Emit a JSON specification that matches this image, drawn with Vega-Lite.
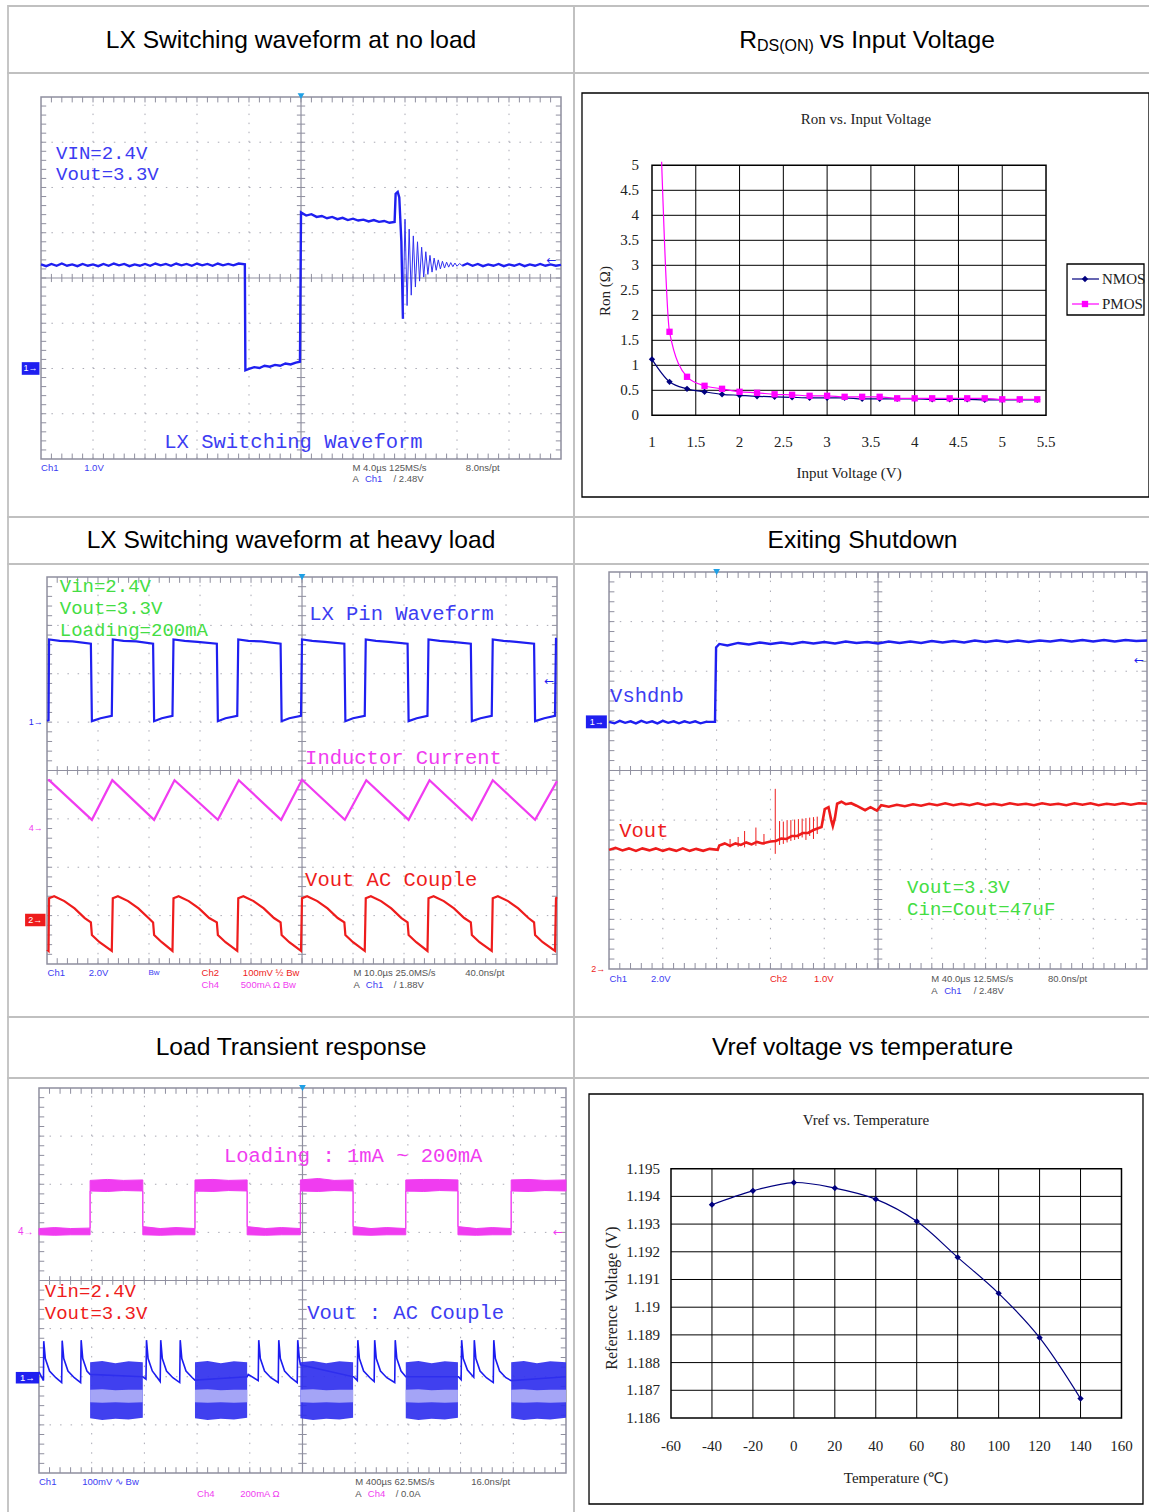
{
"$schema":"https://vega.github.io/schema/vega-lite/v6.json",
"background":"white",
"padding":{"left":7,"top":5,"right":0,"bottom":0},
"data":{"values":[{}]},
"config":{"view":{"stroke":"#c0c0c0","strokeWidth":1.8},"axis":{"disable":true},"legend":{"disable":true}},
"datasets":{
"gx":[{"v":1},{"v":2},{"v":3},{"v":4},{"v":6},{"v":7},{"v":8},{"v":9}],
"gy":[{"v":1},{"v":2},{"v":3},{"v":5},{"v":6},{"v":7}],
"tx":[{"v":0.2},{"v":0.4},{"v":0.6},{"v":0.8},{"v":1},{"v":1.2},{"v":1.4},{"v":1.6},{"v":1.8},{"v":2},{"v":2.2},{"v":2.4},{"v":2.6},{"v":2.8},{"v":3},{"v":3.2},{"v":3.4},{"v":3.6},{"v":3.8},{"v":4},{"v":4.2},{"v":4.4},{"v":4.6},{"v":4.8},{"v":5},{"v":5.2},{"v":5.4},{"v":5.6},{"v":5.8},{"v":6},{"v":6.2},{"v":6.4},{"v":6.6},{"v":6.8},{"v":7},{"v":7.2},{"v":7.4},{"v":7.6},{"v":7.8},{"v":8},{"v":8.2},{"v":8.4},{"v":8.6},{"v":8.8},{"v":9},{"v":9.2},{"v":9.4},{"v":9.6},{"v":9.8}],
"ty":[{"v":0.2},{"v":0.4},{"v":0.6},{"v":0.8},{"v":1},{"v":1.2},{"v":1.4},{"v":1.6},{"v":1.8},{"v":2},{"v":2.2},{"v":2.4},{"v":2.6},{"v":2.8},{"v":3},{"v":3.2},{"v":3.4},{"v":3.6},{"v":3.8},{"v":4},{"v":4.2},{"v":4.4},{"v":4.6},{"v":4.8},{"v":5},{"v":5.2},{"v":5.4},{"v":5.6},{"v":5.8},{"v":6},{"v":6.2},{"v":6.4},{"v":6.6},{"v":6.8},{"v":7},{"v":7.2},{"v":7.4},{"v":7.6},{"v":7.8}],
"s1a":[{"x":0,"y":4.3},{"x":0.1,"y":4.26},{"x":0.2,"y":4.31},{"x":0.3,"y":4.27},{"x":0.4,"y":4.32},{"x":0.5,"y":4.27},{"x":0.6,"y":4.3},{"x":0.7,"y":4.26},{"x":0.8,"y":4.31},{"x":0.9,"y":4.27},{"x":1,"y":4.3},{"x":1.1,"y":4.26},{"x":1.2,"y":4.31},{"x":1.3,"y":4.27},{"x":1.4,"y":4.32},{"x":1.5,"y":4.28},{"x":1.6,"y":4.31},{"x":1.7,"y":4.26},{"x":1.8,"y":4.3},{"x":1.9,"y":4.27},{"x":2,"y":4.31},{"x":2.1,"y":4.27},{"x":2.2,"y":4.32},{"x":2.3,"y":4.28},{"x":2.4,"y":4.31},{"x":2.5,"y":4.27},{"x":2.6,"y":4.32},{"x":2.7,"y":4.28},{"x":2.8,"y":4.31},{"x":2.9,"y":4.27},{"x":3,"y":4.32},{"x":3.1,"y":4.28},{"x":3.2,"y":4.31},{"x":3.3,"y":4.27},{"x":3.4,"y":4.32},{"x":3.5,"y":4.28},{"x":3.6,"y":4.31},{"x":3.7,"y":4.28},{"x":3.8,"y":4.32},{"x":3.92,"y":4.3},{"x":3.93,"y":1.96},{"x":4.0,"y":1.99},{"x":4.1,"y":2.03},{"x":4.2,"y":2.01},{"x":4.3,"y":2.06},{"x":4.4,"y":2.04},{"x":4.5,"y":2.08},{"x":4.6,"y":2.06},{"x":4.7,"y":2.11},{"x":4.8,"y":2.09},{"x":4.9,"y":2.13},{"x":4.98,"y":2.15},{"x":5.0,"y":5.45},{"x":5.1,"y":5.38},{"x":5.2,"y":5.41},{"x":5.3,"y":5.35},{"x":5.4,"y":5.37},{"x":5.5,"y":5.32},{"x":5.6,"y":5.35},{"x":5.7,"y":5.3},{"x":5.8,"y":5.33},{"x":5.9,"y":5.28},{"x":6.0,"y":5.31},{"x":6.1,"y":5.27},{"x":6.2,"y":5.29},{"x":6.3,"y":5.25},{"x":6.4,"y":5.28},{"x":6.5,"y":5.24},{"x":6.6,"y":5.26},{"x":6.7,"y":5.22},{"x":6.8,"y":5.24},{"x":6.82,"y":5.86},{"x":6.86,"y":5.9},{"x":6.89,"y":5.78},{"x":6.93,"y":4.8},{"x":6.96,"y":3.1}],
"s1r":[{"x":6.96,"y":3.1},{"x":7.0,"y":5.3},{"x":7.04,"y":3.39},{"x":7.08,"y":5.08},{"x":7.12,"y":3.62},{"x":7.16,"y":4.93},{"x":7.2,"y":3.8},{"x":7.24,"y":4.8},{"x":7.28,"y":3.93},{"x":7.32,"y":4.68},{"x":7.36,"y":4.02},{"x":7.4,"y":4.58},{"x":7.44,"y":4.08},{"x":7.48,"y":4.5},{"x":7.52,"y":4.13},{"x":7.56,"y":4.44},{"x":7.6,"y":4.17},{"x":7.64,"y":4.4},{"x":7.68,"y":4.2},{"x":7.72,"y":4.37},{"x":7.76,"y":4.22},{"x":7.8,"y":4.35},{"x":7.84,"y":4.24},{"x":7.88,"y":4.34},{"x":7.92,"y":4.25},{"x":7.96,"y":4.33},{"x":8.0,"y":4.26},{"x":8.05,"y":4.32},{"x":8.1,"y":4.27}],
"s1c":[{"x":8.1,"y":4.27},{"x":8.2,"y":4.32},{"x":8.3,"y":4.27},{"x":8.4,"y":4.31},{"x":8.5,"y":4.26},{"x":8.6,"y":4.3},{"x":8.7,"y":4.27},{"x":8.8,"y":4.31},{"x":8.9,"y":4.26},{"x":9.0,"y":4.3},{"x":9.1,"y":4.27},{"x":9.2,"y":4.31},{"x":9.3,"y":4.26},{"x":9.4,"y":4.3},{"x":9.5,"y":4.27},{"x":9.6,"y":4.31},{"x":9.7,"y":4.27},{"x":9.8,"y":4.3},{"x":9.9,"y":4.27},{"x":10,"y":4.29}],
"s2b":[{"x":0,"y":5.03},{"x":0.03,"y":5.04},{"x":0.04,"y":6.71},{"x":0.25,"y":6.68},{"x":0.5,"y":6.67},{"x":0.86,"y":6.62},{"x":0.88,"y":5.02},{"x":1.05,"y":5.08},{"x":1.27,"y":5.13},{"x":1.29,"y":6.71},{"x":1.5,"y":6.68},{"x":1.75,"y":6.67},{"x":2.08,"y":6.62},{"x":2.1,"y":5.02},{"x":2.25,"y":5.08},{"x":2.46,"y":5.13},{"x":2.48,"y":6.71},{"x":2.7,"y":6.68},{"x":2.95,"y":6.66},{"x":3.33,"y":6.62},{"x":3.35,"y":5.02},{"x":3.5,"y":5.08},{"x":3.73,"y":5.13},{"x":3.75,"y":6.71},{"x":3.95,"y":6.68},{"x":4.2,"y":6.67},{"x":4.58,"y":6.62},{"x":4.6,"y":5.02},{"x":4.75,"y":5.08},{"x":4.98,"y":5.13},{"x":5.0,"y":6.71},{"x":5.2,"y":6.68},{"x":5.45,"y":6.66},{"x":5.83,"y":6.62},{"x":5.85,"y":5.02},{"x":6.0,"y":5.08},{"x":6.23,"y":5.13},{"x":6.25,"y":6.71},{"x":6.45,"y":6.68},{"x":6.7,"y":6.66},{"x":7.07,"y":6.62},{"x":7.09,"y":5.02},{"x":7.25,"y":5.08},{"x":7.46,"y":5.13},{"x":7.48,"y":6.71},{"x":7.7,"y":6.68},{"x":7.95,"y":6.66},{"x":8.31,"y":6.62},{"x":8.33,"y":5.02},{"x":8.5,"y":5.08},{"x":8.72,"y":5.13},{"x":8.74,"y":6.71},{"x":8.95,"y":6.68},{"x":9.2,"y":6.66},{"x":9.55,"y":6.62},{"x":9.57,"y":5.02},{"x":9.75,"y":5.08},{"x":9.96,"y":5.13},{"x":9.98,"y":6.72},{"x":10,"y":6.72}],
"s2m":[{"x":0.02,"y":3.79},{"x":0.04,"y":3.8},{"x":0.88,"y":2.98},{"x":1.28,"y":3.8},{"x":2.1,"y":2.98},{"x":2.5,"y":3.8},{"x":3.35,"y":2.98},{"x":3.76,"y":3.8},{"x":4.59,"y":2.98},{"x":5.0,"y":3.81},{"x":5.84,"y":2.98},{"x":6.26,"y":3.8},{"x":7.09,"y":2.98},{"x":7.5,"y":3.8},{"x":8.33,"y":2.98},{"x":8.74,"y":3.8},{"x":9.57,"y":2.98},{"x":10,"y":3.78}],
"s2r":[{"x":0,"y":0.3},{"x":0.03,"y":0.27},{"x":0.04,"y":1.36},{"x":0.14,"y":1.4},{"x":0.34,"y":1.3},{"x":0.54,"y":1.15},{"x":0.74,"y":0.95},{"x":0.86,"y":0.86},{"x":0.88,"y":0.6},{"x":1.03,"y":0.45},{"x":1.27,"y":0.27},{"x":1.29,"y":1.36},{"x":1.39,"y":1.4},{"x":1.59,"y":1.3},{"x":1.79,"y":1.15},{"x":1.99,"y":0.95},{"x":2.08,"y":0.86},{"x":2.1,"y":0.6},{"x":2.25,"y":0.45},{"x":2.46,"y":0.27},{"x":2.48,"y":1.36},{"x":2.58,"y":1.4},{"x":2.78,"y":1.3},{"x":2.98,"y":1.15},{"x":3.18,"y":0.95},{"x":3.33,"y":0.86},{"x":3.35,"y":0.6},{"x":3.5,"y":0.45},{"x":3.73,"y":0.27},{"x":3.75,"y":1.36},{"x":3.85,"y":1.4},{"x":4.05,"y":1.3},{"x":4.25,"y":1.15},{"x":4.45,"y":0.95},{"x":4.58,"y":0.86},{"x":4.6,"y":0.6},{"x":4.75,"y":0.45},{"x":4.98,"y":0.27},{"x":5.0,"y":1.36},{"x":5.1,"y":1.4},{"x":5.3,"y":1.3},{"x":5.5,"y":1.15},{"x":5.7,"y":0.95},{"x":5.83,"y":0.86},{"x":5.85,"y":0.6},{"x":6.0,"y":0.45},{"x":6.23,"y":0.27},{"x":6.25,"y":1.36},{"x":6.35,"y":1.4},{"x":6.55,"y":1.3},{"x":6.75,"y":1.15},{"x":6.95,"y":0.95},{"x":7.07,"y":0.86},{"x":7.09,"y":0.6},{"x":7.24,"y":0.45},{"x":7.46,"y":0.27},{"x":7.48,"y":1.36},{"x":7.58,"y":1.4},{"x":7.78,"y":1.3},{"x":7.98,"y":1.15},{"x":8.18,"y":0.95},{"x":8.31,"y":0.86},{"x":8.33,"y":0.6},{"x":8.48,"y":0.45},{"x":8.72,"y":0.27},{"x":8.74,"y":1.36},{"x":8.84,"y":1.4},{"x":9.04,"y":1.3},{"x":9.24,"y":1.15},{"x":9.44,"y":0.95},{"x":9.55,"y":0.86},{"x":9.57,"y":0.6},{"x":9.72,"y":0.45},{"x":9.96,"y":0.27},{"x":9.98,"y":1.36},{"x":10,"y":1.38}],
"s3b":[{"x":0,"y":4.98},{"x":0.1,"y":4.95},{"x":0.2,"y":5.0},{"x":0.3,"y":4.96},{"x":0.4,"y":4.99},{"x":0.5,"y":4.95},{"x":0.6,"y":5.0},{"x":0.7,"y":4.96},{"x":0.8,"y":4.99},{"x":0.9,"y":4.95},{"x":1.0,"y":5.0},{"x":1.1,"y":4.96},{"x":1.2,"y":4.99},{"x":1.3,"y":4.95},{"x":1.4,"y":4.99},{"x":1.5,"y":4.96},{"x":1.6,"y":4.99},{"x":1.7,"y":4.95},{"x":1.8,"y":4.98},{"x":1.97,"y":4.98},{"x":1.99,"y":6.48},{"x":2.05,"y":6.55},{"x":2.2,"y":6.52},{"x":2.4,"y":6.57},{"x":2.6,"y":6.54},{"x":2.8,"y":6.58},{"x":3.0,"y":6.55},{"x":3.2,"y":6.58},{"x":3.4,"y":6.55},{"x":3.6,"y":6.59},{"x":3.8,"y":6.56},{"x":4.0,"y":6.59},{"x":4.2,"y":6.56},{"x":4.4,"y":6.6},{"x":4.6,"y":6.57},{"x":4.8,"y":6.59},{"x":5.0,"y":6.56},{"x":5.2,"y":6.6},{"x":5.4,"y":6.57},{"x":5.6,"y":6.6},{"x":5.8,"y":6.57},{"x":6.0,"y":6.61},{"x":6.2,"y":6.58},{"x":6.4,"y":6.61},{"x":6.6,"y":6.58},{"x":6.8,"y":6.62},{"x":7.0,"y":6.59},{"x":7.2,"y":6.62},{"x":7.4,"y":6.59},{"x":7.6,"y":6.62},{"x":7.8,"y":6.59},{"x":8.0,"y":6.62},{"x":8.2,"y":6.6},{"x":8.4,"y":6.63},{"x":8.6,"y":6.6},{"x":8.8,"y":6.63},{"x":9.0,"y":6.6},{"x":9.2,"y":6.63},{"x":9.4,"y":6.6},{"x":9.6,"y":6.63},{"x":9.8,"y":6.61},{"x":10,"y":6.62}],
"s3r":[{"x":0,"y":2.4},{"x":0.12,"y":2.44},{"x":0.25,"y":2.39},{"x":0.37,"y":2.43},{"x":0.5,"y":2.38},{"x":0.62,"y":2.43},{"x":0.75,"y":2.39},{"x":0.87,"y":2.43},{"x":1.0,"y":2.38},{"x":1.12,"y":2.42},{"x":1.25,"y":2.38},{"x":1.37,"y":2.43},{"x":1.5,"y":2.38},{"x":1.62,"y":2.42},{"x":1.75,"y":2.38},{"x":1.87,"y":2.42},{"x":2.02,"y":2.4},{"x":2.05,"y":2.49},{"x":2.15,"y":2.53},{"x":2.25,"y":2.48},{"x":2.35,"y":2.53},{"x":2.45,"y":2.5},{"x":2.55,"y":2.55},{"x":2.65,"y":2.51},{"x":2.75,"y":2.56},{"x":2.85,"y":2.53},{"x":3.0,"y":2.57},{"x":3.1,"y":2.58},{"x":3.2,"y":2.63},{"x":3.3,"y":2.62},{"x":3.4,"y":2.68},{"x":3.5,"y":2.68},{"x":3.6,"y":2.74},{"x":3.7,"y":2.74},{"x":3.8,"y":2.8},{"x":3.95,"y":2.86},{"x":4.01,"y":3.22},{"x":4.08,"y":3.26},{"x":4.13,"y":3.0},{"x":4.16,"y":2.88},{"x":4.2,"y":3.05},{"x":4.24,"y":3.33},{"x":4.32,"y":3.37},{"x":4.4,"y":3.32},{"x":4.5,"y":3.34},{"x":4.6,"y":3.29},{"x":4.76,"y":3.2},{"x":4.86,"y":3.26},{"x":4.98,"y":3.19},{"x":5.06,"y":3.3},{"x":5.2,"y":3.27},{"x":5.35,"y":3.31},{"x":5.5,"y":3.28},{"x":5.65,"y":3.32},{"x":5.8,"y":3.29},{"x":5.95,"y":3.33},{"x":6.1,"y":3.3},{"x":6.25,"y":3.34},{"x":6.4,"y":3.3},{"x":6.55,"y":3.33},{"x":6.7,"y":3.3},{"x":6.85,"y":3.34},{"x":7.0,"y":3.3},{"x":7.15,"y":3.33},{"x":7.3,"y":3.3},{"x":7.45,"y":3.34},{"x":7.6,"y":3.31},{"x":7.75,"y":3.33},{"x":7.9,"y":3.3},{"x":8.05,"y":3.34},{"x":8.2,"y":3.31},{"x":8.35,"y":3.33},{"x":8.5,"y":3.3},{"x":8.65,"y":3.34},{"x":8.8,"y":3.31},{"x":8.95,"y":3.34},{"x":9.1,"y":3.3},{"x":9.25,"y":3.33},{"x":9.4,"y":3.31},{"x":9.55,"y":3.34},{"x":9.7,"y":3.31},{"x":9.85,"y":3.34},{"x":10,"y":3.33}],
"s3sp":[{"x":2.25,"lo":2.45,"hi":2.62},{"x":2.4,"lo":2.46,"hi":2.66},{"x":2.52,"lo":2.45,"hi":2.78},{"x":2.73,"lo":2.48,"hi":2.85},{"x":2.88,"lo":2.5,"hi":2.72},{"x":3.09,"lo":2.32,"hi":3.63},{"x":3.17,"lo":2.5,"hi":2.98},{"x":3.24,"lo":2.52,"hi":2.97},{"x":3.31,"lo":2.55,"hi":3.0},{"x":3.38,"lo":2.58,"hi":3.0},{"x":3.45,"lo":2.6,"hi":3.01},{"x":3.52,"lo":2.62,"hi":3.02},{"x":3.59,"lo":2.65,"hi":3.03},{"x":3.66,"lo":2.6,"hi":3.04},{"x":3.73,"lo":2.68,"hi":3.05},{"x":3.8,"lo":2.62,"hi":3.06},{"x":3.87,"lo":2.72,"hi":3.07}],
"s4m":[{"x":0,"lo":4.95,"hi":5.08},{"x":0.3,"lo":4.94,"hi":5.1},{"x":0.6,"lo":4.95,"hi":5.08},{"x":0.97,"lo":4.95,"hi":5.09},{"x":0.97,"lo":5.86,"hi":6.08},{"x":1.3,"lo":5.85,"hi":6.1},{"x":1.6,"lo":5.87,"hi":6.08},{"x":1.97,"lo":5.86,"hi":6.09},{"x":1.97,"lo":4.95,"hi":5.12},{"x":2.3,"lo":4.94,"hi":5.08},{"x":2.6,"lo":4.95,"hi":5.1},{"x":2.96,"lo":4.95,"hi":5.08},{"x":2.96,"lo":5.86,"hi":6.09},{"x":3.3,"lo":5.85,"hi":6.1},{"x":3.6,"lo":5.87,"hi":6.08},{"x":3.95,"lo":5.86,"hi":6.09},{"x":3.95,"lo":4.95,"hi":5.12},{"x":4.3,"lo":4.94,"hi":5.08},{"x":4.6,"lo":4.95,"hi":5.1},{"x":4.96,"lo":4.95,"hi":5.08},{"x":4.96,"lo":5.86,"hi":6.09},{"x":5.3,"lo":5.85,"hi":6.12},{"x":5.6,"lo":5.87,"hi":6.08},{"x":5.96,"lo":5.86,"hi":6.09},{"x":5.96,"lo":4.95,"hi":5.12},{"x":6.3,"lo":4.94,"hi":5.08},{"x":6.6,"lo":4.95,"hi":5.1},{"x":6.96,"lo":4.95,"hi":5.08},{"x":6.96,"lo":5.86,"hi":6.09},{"x":7.3,"lo":5.85,"hi":6.1},{"x":7.6,"lo":5.87,"hi":6.1},{"x":7.95,"lo":5.86,"hi":6.09},{"x":7.95,"lo":4.95,"hi":5.12},{"x":8.3,"lo":4.94,"hi":5.08},{"x":8.6,"lo":4.95,"hi":5.1},{"x":8.96,"lo":4.95,"hi":5.08},{"x":8.96,"lo":5.86,"hi":6.09},{"x":9.3,"lo":5.85,"hi":6.1},{"x":9.6,"lo":5.87,"hi":6.08},{"x":10,"lo":5.86,"hi":6.09}],
"s4b":[{"x":0,"y":2.1},{"x":0.085,"y":1.92},{"x":0.09,"y":2.74},{"x":0.12,"y":2.38},{"x":0.2,"y":2.12},{"x":0.32,"y":1.98},{"x":0.43,"y":1.88},{"x":0.44,"y":2.75},{"x":0.47,"y":2.38},{"x":0.55,"y":2.12},{"x":0.67,"y":1.98},{"x":0.79,"y":1.88},{"x":0.8,"y":2.76},{"x":0.83,"y":2.38},{"x":0.91,"y":2.12},{"x":0.97,"y":2.05},{"x":1.97,"y":2.0},{"x":2.03,"y":1.95},{"x":2.04,"y":2.76},{"x":2.07,"y":2.38},{"x":2.15,"y":2.12},{"x":2.3,"y":1.9},{"x":2.31,"y":2.76},{"x":2.34,"y":2.38},{"x":2.42,"y":2.12},{"x":2.54,"y":1.98},{"x":2.67,"y":1.88},{"x":2.68,"y":2.76},{"x":2.71,"y":2.38},{"x":2.79,"y":2.12},{"x":2.91,"y":1.98},{"x":2.96,"y":1.93},{"x":3.95,"y":2.0},{"x":3.97,"y":2.05},{"x":4.16,"y":1.92},{"x":4.17,"y":2.76},{"x":4.2,"y":2.38},{"x":4.28,"y":2.12},{"x":4.4,"y":1.98},{"x":4.54,"y":1.88},{"x":4.55,"y":2.76},{"x":4.58,"y":2.38},{"x":4.66,"y":2.12},{"x":4.78,"y":1.98},{"x":4.9,"y":1.88},{"x":4.91,"y":2.76},{"x":4.94,"y":2.38},{"x":4.96,"y":2.25},{"x":5.96,"y":2.0},{"x":5.97,"y":2.0},{"x":6.04,"y":1.92},{"x":6.05,"y":2.76},{"x":6.08,"y":2.38},{"x":6.16,"y":2.12},{"x":6.28,"y":1.98},{"x":6.36,"y":1.9},{"x":6.37,"y":2.76},{"x":6.4,"y":2.38},{"x":6.48,"y":2.12},{"x":6.6,"y":1.98},{"x":6.75,"y":1.88},{"x":6.76,"y":2.76},{"x":6.79,"y":2.38},{"x":6.87,"y":2.12},{"x":6.96,"y":2.0},{"x":7.95,"y":2.0},{"x":7.96,"y":2.0},{"x":8.01,"y":1.94},{"x":8.02,"y":2.76},{"x":8.05,"y":2.38},{"x":8.13,"y":2.14},{"x":8.25,"y":1.99},{"x":8.26,"y":2.76},{"x":8.29,"y":2.38},{"x":8.37,"y":2.12},{"x":8.49,"y":1.98},{"x":8.62,"y":1.88},{"x":8.63,"y":2.76},{"x":8.66,"y":2.38},{"x":8.74,"y":2.12},{"x":8.86,"y":1.98},{"x":8.96,"y":1.92},{"x":10,"y":2.0}],
"s4burst":[{"b":1,"x":0.97,"lo":1.14,"hi":2.3,"mlo":1.47,"mhi":1.73},{"b":1,"x":1.2,"lo":1.1,"hi":2.33,"mlo":1.46,"mhi":1.74},{"b":1,"x":1.45,"lo":1.13,"hi":2.28,"mlo":1.47,"mhi":1.72},{"b":1,"x":1.7,"lo":1.11,"hi":2.32,"mlo":1.46,"mhi":1.73},{"b":1,"x":1.97,"lo":1.15,"hi":2.3,"mlo":1.47,"mhi":1.73},
{"b":2,"x":2.96,"lo":1.14,"hi":2.3,"mlo":1.47,"mhi":1.73},{"b":2,"x":3.2,"lo":1.1,"hi":2.33,"mlo":1.46,"mhi":1.74},{"b":2,"x":3.45,"lo":1.13,"hi":2.28,"mlo":1.47,"mhi":1.72},{"b":2,"x":3.7,"lo":1.11,"hi":2.32,"mlo":1.46,"mhi":1.73},{"b":2,"x":3.95,"lo":1.15,"hi":2.3,"mlo":1.47,"mhi":1.73},
{"b":3,"x":4.96,"lo":1.14,"hi":2.3,"mlo":1.47,"mhi":1.73},{"b":3,"x":5.2,"lo":1.1,"hi":2.33,"mlo":1.46,"mhi":1.74},{"b":3,"x":5.45,"lo":1.13,"hi":2.28,"mlo":1.47,"mhi":1.72},{"b":3,"x":5.7,"lo":1.11,"hi":2.32,"mlo":1.46,"mhi":1.73},{"b":3,"x":5.96,"lo":1.15,"hi":2.3,"mlo":1.47,"mhi":1.73},
{"b":4,"x":6.96,"lo":1.14,"hi":2.3,"mlo":1.47,"mhi":1.73},{"b":4,"x":7.2,"lo":1.1,"hi":2.33,"mlo":1.46,"mhi":1.74},{"b":4,"x":7.45,"lo":1.13,"hi":2.28,"mlo":1.47,"mhi":1.72},{"b":4,"x":7.7,"lo":1.11,"hi":2.32,"mlo":1.46,"mhi":1.73},{"b":4,"x":7.95,"lo":1.15,"hi":2.3,"mlo":1.47,"mhi":1.73},
{"b":5,"x":8.96,"lo":1.14,"hi":2.3,"mlo":1.47,"mhi":1.73},{"b":5,"x":9.2,"lo":1.1,"hi":2.33,"mlo":1.46,"mhi":1.74},{"b":5,"x":9.45,"lo":1.13,"hi":2.28,"mlo":1.47,"mhi":1.72},{"b":5,"x":9.7,"lo":1.11,"hi":2.32,"mlo":1.46,"mhi":1.73},{"b":5,"x":10,"lo":1.15,"hi":2.3,"mlo":1.47,"mhi":1.73}],
"nmos":[{"v":1.0,"r":1.12},{"v":1.2,"r":0.67},{"v":1.4,"r":0.53},{"v":1.6,"r":0.47},{"v":1.8,"r":0.42},{"v":2.0,"r":0.4},{"v":2.2,"r":0.38},{"v":2.4,"r":0.37},{"v":2.6,"r":0.36},{"v":2.8,"r":0.35},{"v":3.0,"r":0.35},{"v":3.2,"r":0.35},{"v":3.4,"r":0.33},{"v":3.6,"r":0.33},{"v":3.8,"r":0.33},{"v":4.0,"r":0.33},{"v":4.2,"r":0.32},{"v":4.4,"r":0.32},{"v":4.6,"r":0.32},{"v":4.8,"r":0.31},{"v":5.0,"r":0.31},{"v":5.2,"r":0.31},{"v":5.4,"r":0.31}],
"pmos":[{"v":1.11,"r":5.07,"edge":true},{"v":1.2,"r":1.67},{"v":1.4,"r":0.77},{"v":1.6,"r":0.59},{"v":1.8,"r":0.53},{"v":2.0,"r":0.47},{"v":2.2,"r":0.45},{"v":2.4,"r":0.42},{"v":2.6,"r":0.41},{"v":2.8,"r":0.39},{"v":3.0,"r":0.39},{"v":3.2,"r":0.37},{"v":3.4,"r":0.37},{"v":3.6,"r":0.37},{"v":3.8,"r":0.34},{"v":4.0,"r":0.34},{"v":4.2,"r":0.34},{"v":4.4,"r":0.34},{"v":4.6,"r":0.34},{"v":4.8,"r":0.34},{"v":5.0,"r":0.32},{"v":5.2,"r":0.32},{"v":5.4,"r":0.32}],
"vref":[{"t":-40,"v":1.1937},{"t":-20,"v":1.1942},{"t":0,"v":1.1945},{"t":20,"v":1.1943},{"t":40,"v":1.1939},{"t":60,"v":1.1931},{"t":80,"v":1.1918},{"t":100,"v":1.1905},{"t":120,"v":1.1889},{"t":140,"v":1.1867}]
},
"columns":2,
"spacing":0,
"bounds":"flush",
"resolve":{"scale":{"x":"independent","y":"independent"}},
"concat":[
{"width":566,"height":67,"mark":{"type":"text","text":"LX Switching waveform at no load","font":"Liberation Sans","fontSize":24.6,"color":"#000000"},"encoding":{"x":{"datum":50,"scale":{"domain":[0,100],"nice":false,"zero":false}},"y":{"datum":0.48,"scale":{"domain":[0,1],"nice":false,"zero":false}}}},
{"width":577,"height":67,"layer":[
{"mark":{"type":"text","text":"R","font":"Liberation Sans","fontSize":24.6,"color":"#000000","align":"right"},"encoding":{"x":{"datum":31.7,"scale":{"domain":[0,100],"nice":false,"zero":false}},"y":{"datum":0.48,"scale":{"domain":[0,1],"nice":false,"zero":false}}}},
{"mark":{"type":"text","text":"DS(ON)","font":"Liberation Sans","fontSize":16,"color":"#000000","align":"left"},"encoding":{"x":{"datum":31.7},"y":{"datum":0.4}}},
{"mark":{"type":"text","text":"vs Input Voltage","font":"Liberation Sans","fontSize":24.6,"color":"#000000","align":"left"},"encoding":{"x":{"datum":42.6},"y":{"datum":0.48}}}
]},
{"width":566,"height":444,"layer":[
{"data":{"name":"gx"},"mark":{"type":"rule","color":"#a9a9b4","strokeWidth":1,"strokeDash":[1.5,7.55]},"encoding":{"x":{"field":"v","type":"quantitative","scale":{"domain":[-0.635,10.25],"nice":false,"zero":false}},"y":{"datum":0,"scale":{"domain":[-1.282,8.53],"nice":false,"zero":false}},"y2":{"datum":8}}},
{"data":{"name":"gy"},"mark":{"type":"rule","color":"#a9a9b4","strokeWidth":1,"strokeDash":[1.5,8.9]},"encoding":{"y":{"field":"v","type":"quantitative"},"x":{"datum":0},"x2":{"datum":10}}},
{"mark":{"type":"rect","fillOpacity":0,"stroke":"#8f8f9f","strokeWidth":1.5},"encoding":{"x":{"datum":0},"x2":{"datum":10},"y":{"datum":0},"y2":{"datum":8}}},
{"mark":{"type":"rule","color":"#8f8f9f","strokeWidth":1.2},"encoding":{"x":{"datum":5},"y":{"datum":0},"y2":{"datum":8}}},
{"mark":{"type":"rule","color":"#8f8f9f","strokeWidth":1.2},"encoding":{"y":{"datum":4},"x":{"datum":0},"x2":{"datum":10}}},
{"data":{"name":"tx"},"mark":{"type":"rule","color":"#8f8f9f"},"encoding":{"x":{"field":"v","type":"quantitative"},"y":{"datum":7.88},"y2":{"datum":8}}},
{"data":{"name":"tx"},"mark":{"type":"rule","color":"#8f8f9f"},"encoding":{"x":{"field":"v","type":"quantitative"},"y":{"datum":0},"y2":{"datum":0.12}}},
{"data":{"name":"tx"},"mark":{"type":"rule","color":"#8f8f9f"},"encoding":{"x":{"field":"v","type":"quantitative"},"y":{"datum":3.91},"y2":{"datum":4.09}}},
{"data":{"name":"ty"},"mark":{"type":"rule","color":"#8f8f9f"},"encoding":{"y":{"field":"v","type":"quantitative"},"x":{"datum":0},"x2":{"datum":0.1}}},
{"data":{"name":"ty"},"mark":{"type":"rule","color":"#8f8f9f"},"encoding":{"y":{"field":"v","type":"quantitative"},"x":{"datum":9.9},"x2":{"datum":10}}},
{"data":{"name":"ty"},"mark":{"type":"rule","color":"#8f8f9f"},"encoding":{"y":{"field":"v","type":"quantitative"},"x":{"datum":4.92},"x2":{"datum":5.08}}},
{"data":{"name":"s1a"},"mark":{"type":"line","color":"#1f1ff0","strokeWidth":2.4},"encoding":{"x":{"field":"x","type":"quantitative"},"y":{"field":"y","type":"quantitative"},"order":{"value":null}}},
{"data":{"name":"s1r"},"mark":{"type":"line","color":"#3030f0","strokeWidth":1},"encoding":{"x":{"field":"x","type":"quantitative"},"y":{"field":"y","type":"quantitative"},"order":{"value":null}}},
{"data":{"name":"s1c"},"mark":{"type":"line","color":"#1f1ff0","strokeWidth":2.4},"encoding":{"x":{"field":"x","type":"quantitative"},"y":{"field":"y","type":"quantitative"},"order":{"value":null}}},
{"mark":{"type":"text","text":"VIN=2.4V","font":"Liberation Mono","fontSize":19,"color":"#3c3cf2","align":"left"},"encoding":{"x":{"datum":0.29},"y":{"datum":6.773}}},
{"mark":{"type":"text","text":"Vout=3.3V","font":"Liberation Mono","fontSize":19,"color":"#3c3cf2","align":"left"},"encoding":{"x":{"datum":0.29},"y":{"datum":6.287}}},
{"mark":{"type":"text","text":"LX Switching Waveform","font":"Liberation Mono","fontSize":20.5,"color":"#3c3cf2","align":"left"},"encoding":{"x":{"datum":2.37},"y":{"datum":0.38}}},
{"mark":{"type":"rect","color":"#1f1ff0"},"encoding":{"x":{"datum":-0.37},"x2":{"datum":-0.03},"y":{"datum":1.86},"y2":{"datum":2.14}}},
{"mark":{"type":"text","text":"1→","font":"Liberation Sans","fontSize":9,"color":"#ffffff"},"encoding":{"x":{"datum":-0.2},"y":{"datum":2.0}}},
{"mark":{"type":"point","shape":"triangle-down","filled":true,"color":"#1ea0e6","size":45,"opacity":1},"encoding":{"x":{"datum":5},"y":{"datum":8.02}}},
{"mark":{"type":"text","text":"←","font":"DejaVu Sans","fontSize":12,"color":"#1f1ff0"},"encoding":{"x":{"datum":9.82},"y":{"datum":4.4}}},
{"mark":{"type":"text","text":"Ch1","font":"Liberation Sans","fontSize":9.5,"color":"#3c3cf2","align":"left"},"encoding":{"x":{"datum":0},"y":{"datum":-0.2}}},
{"mark":{"type":"text","text":"1.0V","font":"Liberation Sans","fontSize":9.5,"color":"#3c3cf2","align":"left"},"encoding":{"x":{"datum":0.83},"y":{"datum":-0.2}}},
{"mark":{"type":"text","text":"M 4.0µs 125MS/s","font":"Liberation Sans","fontSize":9.5,"color":"#555555","align":"left"},"encoding":{"x":{"datum":5.99},"y":{"datum":-0.2}}},
{"mark":{"type":"text","text":"8.0ns/pt","font":"Liberation Sans","fontSize":9.5,"color":"#555555","align":"left"},"encoding":{"x":{"datum":8.17},"y":{"datum":-0.2}}},
{"mark":{"type":"text","text":"A","font":"Liberation Sans","fontSize":9.5,"color":"#555555","align":"left"},"encoding":{"x":{"datum":5.99},"y":{"datum":-0.44}}},
{"mark":{"type":"text","text":"Ch1","font":"Liberation Sans","fontSize":9.5,"color":"#3c3cf2","align":"left"},"encoding":{"x":{"datum":6.23},"y":{"datum":-0.44}}},
{"mark":{"type":"text","text":"/ 2.48V","font":"Liberation Sans","fontSize":9.5,"color":"#555555","align":"left"},"encoding":{"x":{"datum":6.78},"y":{"datum":-0.44}}}
]},
{"width":577,"height":444,"layer":[
{"mark":{"type":"rect","fillOpacity":0,"stroke":"#000000","strokeWidth":1.3},"encoding":{"x":{"datum":0.2005,"scale":{"domain":[0.1092,6.699],"nice":false,"zero":false}},"x2":{"datum":6.676},"y":{"datum":-1.634,"scale":{"domain":[-2.034,6.846],"nice":false,"zero":false}},"y2":{"datum":6.446}}},
{"data":{"values":[{"v":1.5},{"v":2},{"v":2.5},{"v":3},{"v":3.5},{"v":4},{"v":4.5},{"v":5}]},"mark":{"type":"rule","color":"#000000","strokeWidth":1},"encoding":{"x":{"field":"v","type":"quantitative"},"y":{"datum":0},"y2":{"datum":5}}},
{"data":{"values":[{"v":0.5},{"v":1},{"v":1.5},{"v":2},{"v":2.5},{"v":3},{"v":3.5},{"v":4},{"v":4.5}]},"mark":{"type":"rule","color":"#000000","strokeWidth":1},"encoding":{"y":{"field":"v","type":"quantitative"},"x":{"datum":1},"x2":{"datum":5.5}}},
{"mark":{"type":"rect","fillOpacity":0,"stroke":"#000000","strokeWidth":1.5},"encoding":{"x":{"datum":1},"x2":{"datum":5.5},"y":{"datum":0},"y2":{"datum":5}}},
{"data":{"values":[{"v":1},{"v":1.5},{"v":2},{"v":2.5},{"v":3},{"v":3.5},{"v":4},{"v":4.5},{"v":5},{"v":5.5}]},"mark":{"type":"text","font":"Liberation Serif","fontSize":15,"color":"#222222"},"encoding":{"x":{"field":"v","type":"quantitative"},"y":{"datum":-0.534},"text":{"field":"v","type":"nominal"}}},
{"data":{"values":[{"v":0},{"v":0.5},{"v":1},{"v":1.5},{"v":2},{"v":2.5},{"v":3},{"v":3.5},{"v":4},{"v":4.5},{"v":5}]},"mark":{"type":"text","font":"Liberation Serif","fontSize":15,"color":"#222222","align":"right"},"encoding":{"y":{"field":"v","type":"quantitative"},"x":{"datum":0.8515},"text":{"field":"v","type":"nominal"}}},
{"mark":{"type":"text","text":"Ron vs. Input Voltage","font":"Liberation Serif","fontSize":15,"color":"#222222"},"encoding":{"x":{"datum":3.444},"y":{"datum":5.926}}},
{"mark":{"type":"text","text":"Ron (Ω)","font":"Liberation Serif","fontSize":15,"color":"#222222","angle":270},"encoding":{"x":{"datum":0.463},"y":{"datum":2.486}}},
{"mark":{"type":"text","text":"Input Voltage (V)","font":"Liberation Serif","fontSize":15,"color":"#222222"},"encoding":{"x":{"datum":3.25},"y":{"datum":-1.154}}},
{"data":{"name":"nmos"},"mark":{"type":"line","color":"#00007f","strokeWidth":1.2,"interpolate":"monotone"},"encoding":{"x":{"field":"v","type":"quantitative"},"y":{"field":"r","type":"quantitative"}}},
{"data":{"name":"nmos"},"mark":{"type":"point","shape":"diamond","filled":true,"color":"#00007f","size":40,"opacity":1},"encoding":{"x":{"field":"v","type":"quantitative"},"y":{"field":"r","type":"quantitative"}}},
{"data":{"name":"pmos"},"mark":{"type":"line","color":"#ff00ff","strokeWidth":1.2,"interpolate":"monotone"},"encoding":{"x":{"field":"v","type":"quantitative"},"y":{"field":"r","type":"quantitative"}}},
{"data":{"name":"pmos"},"transform":[{"filter":"!datum.edge"}],"mark":{"type":"point","shape":"square","filled":true,"color":"#ff00ff","size":40,"opacity":1},"encoding":{"x":{"field":"v","type":"quantitative"},"y":{"field":"r","type":"quantitative"}}},
{"mark":{"type":"rect","fill":"#ffffff","stroke":"#000000","strokeWidth":1.3},"encoding":{"x":{"datum":5.74},"x2":{"datum":6.619},"y":{"datum":2.006},"y2":{"datum":3.026}}},
{"mark":{"type":"rule","color":"#00007f","strokeWidth":1.2},"encoding":{"x":{"datum":5.797},"x2":{"datum":6.105},"y":{"datum":2.726}}},
{"mark":{"type":"point","shape":"diamond","filled":true,"color":"#00007f","size":40,"opacity":1},"encoding":{"x":{"datum":5.945},"y":{"datum":2.726}}},
{"mark":{"type":"text","text":"NMOS","font":"Liberation Serif","fontSize":15,"color":"#222222","align":"left"},"encoding":{"x":{"datum":6.139},"y":{"datum":2.726}}},
{"mark":{"type":"rule","color":"#ff00ff","strokeWidth":1.2},"encoding":{"x":{"datum":5.797},"x2":{"datum":6.105},"y":{"datum":2.226}}},
{"mark":{"type":"point","shape":"square","filled":true,"color":"#ff00ff","size":40,"opacity":1},"encoding":{"x":{"datum":5.945},"y":{"datum":2.226}}},
{"mark":{"type":"text","text":"PMOS","font":"Liberation Serif","fontSize":15,"color":"#222222","align":"left"},"encoding":{"x":{"datum":6.139},"y":{"datum":2.226}}}
]},
{"width":566,"height":47,"mark":{"type":"text","text":"LX Switching waveform at heavy load","font":"Liberation Sans","fontSize":24.6,"color":"#000000"},"encoding":{"x":{"datum":50,"scale":{"domain":[0,100],"nice":false,"zero":false}},"y":{"datum":0.49,"scale":{"domain":[0,1],"nice":false,"zero":false}}}},
{"width":577,"height":47,"mark":{"type":"text","text":"Exiting Shutdown","font":"Liberation Sans","fontSize":24.6,"color":"#000000"},"encoding":{"x":{"datum":50,"scale":{"domain":[0,100],"nice":false,"zero":false}},"y":{"datum":0.49,"scale":{"domain":[0,1],"nice":false,"zero":false}}}},
{"width":566,"height":453,"layer":[
{"data":{"name":"gx"},"mark":{"type":"rule","color":"#a9a9b4","strokeWidth":1,"strokeDash":[1.5,8.18]},"encoding":{"x":{"field":"v","type":"quantitative","scale":{"domain":[-0.765,10.333],"nice":false,"zero":false}},"y":{"datum":0,"scale":{"domain":[-1.096,8.269],"nice":false,"zero":false}},"y2":{"datum":8}}},
{"data":{"name":"gy"},"mark":{"type":"rule","color":"#a9a9b4","strokeWidth":1,"strokeDash":[1.5,8.7]},"encoding":{"y":{"field":"v","type":"quantitative"},"x":{"datum":0},"x2":{"datum":10}}},
{"mark":{"type":"rect","fillOpacity":0,"stroke":"#8f8f9f","strokeWidth":1.5},"encoding":{"x":{"datum":0},"x2":{"datum":10},"y":{"datum":0},"y2":{"datum":8}}},
{"mark":{"type":"rule","color":"#8f8f9f","strokeWidth":1.2},"encoding":{"x":{"datum":5},"y":{"datum":0},"y2":{"datum":8}}},
{"mark":{"type":"rule","color":"#8f8f9f","strokeWidth":1.2},"encoding":{"y":{"datum":4},"x":{"datum":0},"x2":{"datum":10}}},
{"data":{"name":"tx"},"mark":{"type":"rule","color":"#8f8f9f"},"encoding":{"x":{"field":"v","type":"quantitative"},"y":{"datum":7.88},"y2":{"datum":8}}},
{"data":{"name":"tx"},"mark":{"type":"rule","color":"#8f8f9f"},"encoding":{"x":{"field":"v","type":"quantitative"},"y":{"datum":0},"y2":{"datum":0.12}}},
{"data":{"name":"tx"},"mark":{"type":"rule","color":"#8f8f9f"},"encoding":{"x":{"field":"v","type":"quantitative"},"y":{"datum":3.91},"y2":{"datum":4.09}}},
{"data":{"name":"ty"},"mark":{"type":"rule","color":"#8f8f9f"},"encoding":{"y":{"field":"v","type":"quantitative"},"x":{"datum":0},"x2":{"datum":0.1}}},
{"data":{"name":"ty"},"mark":{"type":"rule","color":"#8f8f9f"},"encoding":{"y":{"field":"v","type":"quantitative"},"x":{"datum":9.9},"x2":{"datum":10}}},
{"data":{"name":"ty"},"mark":{"type":"rule","color":"#8f8f9f"},"encoding":{"y":{"field":"v","type":"quantitative"},"x":{"datum":4.92},"x2":{"datum":5.08}}},
{"data":{"name":"s2b"},"mark":{"type":"line","color":"#1f1ff0","strokeWidth":2.2},"encoding":{"x":{"field":"x","type":"quantitative"},"y":{"field":"y","type":"quantitative"},"order":{"value":null}}},
{"data":{"name":"s2m"},"mark":{"type":"line","color":"#f03cf0","strokeWidth":2.2},"encoding":{"x":{"field":"x","type":"quantitative"},"y":{"field":"y","type":"quantitative"},"order":{"value":null}}},
{"data":{"name":"s2r"},"mark":{"type":"line","color":"#ee1c1c","strokeWidth":2.2},"encoding":{"x":{"field":"x","type":"quantitative"},"y":{"field":"y","type":"quantitative"},"order":{"value":null}}},
{"mark":{"type":"text","text":"Vin=2.4V","font":"Liberation Mono","fontSize":19,"color":"#44dd44","align":"left"},"encoding":{"x":{"datum":0.25},"y":{"datum":7.814}}},
{"mark":{"type":"text","text":"Vout=3.3V","font":"Liberation Mono","fontSize":19,"color":"#44dd44","align":"left"},"encoding":{"x":{"datum":0.25},"y":{"datum":7.359}}},
{"mark":{"type":"text","text":"Loading=200mA","font":"Liberation Mono","fontSize":19,"color":"#44dd44","align":"left"},"encoding":{"x":{"datum":0.25},"y":{"datum":6.904}}},
{"mark":{"type":"text","text":"LX Pin Waveform","font":"Liberation Mono","fontSize":20.5,"color":"#3c3cf2","align":"left"},"encoding":{"x":{"datum":5.14},"y":{"datum":7.24}}},
{"mark":{"type":"text","text":"Inductor Current","font":"Liberation Mono","fontSize":20.5,"color":"#f03cf0","align":"left"},"encoding":{"x":{"datum":5.06},"y":{"datum":4.26}}},
{"mark":{"type":"text","text":"Vout AC Couple","font":"Liberation Mono","fontSize":20.5,"color":"#ee1c1c","align":"left"},"encoding":{"x":{"datum":5.06},"y":{"datum":1.74}}},
{"mark":{"type":"text","text":"1→","font":"Liberation Sans","fontSize":9,"color":"#1f1ff0"},"encoding":{"x":{"datum":-0.22},"y":{"datum":5.0}}},
{"mark":{"type":"text","text":"4→","font":"Liberation Sans","fontSize":9,"color":"#f03cf0"},"encoding":{"x":{"datum":-0.22},"y":{"datum":2.81}}},
{"mark":{"type":"rect","color":"#ee1c1c"},"encoding":{"x":{"datum":-0.43},"x2":{"datum":-0.03},"y":{"datum":0.78},"y2":{"datum":1.04}}},
{"mark":{"type":"text","text":"2→","font":"Liberation Sans","fontSize":9,"color":"#ffffff"},"encoding":{"x":{"datum":-0.23},"y":{"datum":0.91}}},
{"mark":{"type":"point","shape":"triangle-down","filled":true,"color":"#1ea0e6","size":45,"opacity":1},"encoding":{"x":{"datum":5},"y":{"datum":8.0}}},
{"mark":{"type":"text","text":"←","font":"DejaVu Sans","fontSize":12,"color":"#1f1ff0"},"encoding":{"x":{"datum":9.85},"y":{"datum":5.86}}},
{"mark":{"type":"text","text":"Ch1","font":"Liberation Sans","fontSize":9.5,"color":"#3c3cf2","align":"left"},"encoding":{"x":{"datum":0.01},"y":{"datum":-0.19}}},
{"mark":{"type":"text","text":"2.0V","font":"Liberation Sans","fontSize":9.5,"color":"#3c3cf2","align":"left"},"encoding":{"x":{"datum":0.82},"y":{"datum":-0.19}}},
{"mark":{"type":"text","text":"Bw","font":"Liberation Sans","fontSize":8,"color":"#3c3cf2","align":"left"},"encoding":{"x":{"datum":1.99},"y":{"datum":-0.19}}},
{"mark":{"type":"text","text":"Ch2","font":"Liberation Sans","fontSize":9.5,"color":"#ee1c1c","align":"left"},"encoding":{"x":{"datum":3.03},"y":{"datum":-0.19}}},
{"mark":{"type":"text","text":"100mV  ½  Bw","font":"Liberation Sans","fontSize":9.5,"color":"#ee1c1c","align":"left"},"encoding":{"x":{"datum":3.84},"y":{"datum":-0.19}}},
{"mark":{"type":"text","text":"Ch4","font":"Liberation Sans","fontSize":9.5,"color":"#f03cf0","align":"left"},"encoding":{"x":{"datum":3.03},"y":{"datum":-0.43}}},
{"mark":{"type":"text","text":"500mA  Ω  Bw","font":"Liberation Sans","fontSize":9.5,"color":"#f03cf0","align":"left"},"encoding":{"x":{"datum":3.8},"y":{"datum":-0.43}}},
{"mark":{"type":"text","text":"M 10.0µs 25.0MS/s","font":"Liberation Sans","fontSize":9.5,"color":"#555555","align":"left"},"encoding":{"x":{"datum":6.01},"y":{"datum":-0.19}}},
{"mark":{"type":"text","text":"40.0ns/pt","font":"Liberation Sans","fontSize":9.5,"color":"#555555","align":"left"},"encoding":{"x":{"datum":8.2},"y":{"datum":-0.19}}},
{"mark":{"type":"text","text":"A","font":"Liberation Sans","fontSize":9.5,"color":"#555555","align":"left"},"encoding":{"x":{"datum":6.01},"y":{"datum":-0.43}}},
{"mark":{"type":"text","text":"Ch1","font":"Liberation Sans","fontSize":9.5,"color":"#3c3cf2","align":"left"},"encoding":{"x":{"datum":6.25},"y":{"datum":-0.43}}},
{"mark":{"type":"text","text":"/ 1.88V","font":"Liberation Sans","fontSize":9.5,"color":"#555555","align":"left"},"encoding":{"x":{"datum":6.8},"y":{"datum":-0.43}}}
]},
{"width":577,"height":453,"layer":[
{"data":{"name":"gx"},"mark":{"type":"rule","color":"#a9a9b4","strokeWidth":1,"strokeDash":[1.5,8.42]},"encoding":{"x":{"field":"v","type":"quantitative","scale":{"domain":[-0.651,10.074],"nice":false,"zero":false}},"y":{"datum":0,"scale":{"domain":[-0.968,8.161],"nice":false,"zero":false}},"y2":{"datum":8}}},
{"data":{"name":"gy"},"mark":{"type":"rule","color":"#a9a9b4","strokeWidth":1,"strokeDash":[1.5,9.26]},"encoding":{"y":{"field":"v","type":"quantitative"},"x":{"datum":0},"x2":{"datum":10}}},
{"mark":{"type":"rect","fillOpacity":0,"stroke":"#8f8f9f","strokeWidth":1.5},"encoding":{"x":{"datum":0},"x2":{"datum":10},"y":{"datum":0},"y2":{"datum":8}}},
{"mark":{"type":"rule","color":"#8f8f9f","strokeWidth":1.2},"encoding":{"x":{"datum":5},"y":{"datum":0},"y2":{"datum":8}}},
{"mark":{"type":"rule","color":"#8f8f9f","strokeWidth":1.2},"encoding":{"y":{"datum":4},"x":{"datum":0},"x2":{"datum":10}}},
{"data":{"name":"tx"},"mark":{"type":"rule","color":"#8f8f9f"},"encoding":{"x":{"field":"v","type":"quantitative"},"y":{"datum":7.88},"y2":{"datum":8}}},
{"data":{"name":"tx"},"mark":{"type":"rule","color":"#8f8f9f"},"encoding":{"x":{"field":"v","type":"quantitative"},"y":{"datum":0},"y2":{"datum":0.12}}},
{"data":{"name":"tx"},"mark":{"type":"rule","color":"#8f8f9f"},"encoding":{"x":{"field":"v","type":"quantitative"},"y":{"datum":3.91},"y2":{"datum":4.09}}},
{"data":{"name":"ty"},"mark":{"type":"rule","color":"#8f8f9f"},"encoding":{"y":{"field":"v","type":"quantitative"},"x":{"datum":0},"x2":{"datum":0.1}}},
{"data":{"name":"ty"},"mark":{"type":"rule","color":"#8f8f9f"},"encoding":{"y":{"field":"v","type":"quantitative"},"x":{"datum":9.9},"x2":{"datum":10}}},
{"data":{"name":"ty"},"mark":{"type":"rule","color":"#8f8f9f"},"encoding":{"y":{"field":"v","type":"quantitative"},"x":{"datum":4.92},"x2":{"datum":5.08}}},
{"data":{"name":"s3b"},"mark":{"type":"line","color":"#1f1ff0","strokeWidth":2.4},"encoding":{"x":{"field":"x","type":"quantitative"},"y":{"field":"y","type":"quantitative"},"order":{"value":null}}},
{"data":{"name":"s3sp"},"mark":{"type":"rule","color":"#ee1c1c","strokeWidth":1},"encoding":{"x":{"field":"x","type":"quantitative"},"y":{"field":"lo","type":"quantitative"},"y2":{"field":"hi"}}},
{"data":{"name":"s3r"},"mark":{"type":"line","color":"#ee1c1c","strokeWidth":2.6},"encoding":{"x":{"field":"x","type":"quantitative"},"y":{"field":"y","type":"quantitative"},"order":{"value":null}}},
{"mark":{"type":"text","text":"Vshdnb","font":"Liberation Mono","fontSize":20.5,"color":"#3c3cf2","align":"left"},"encoding":{"x":{"datum":0.02},"y":{"datum":5.5}}},
{"mark":{"type":"text","text":"Vout","font":"Liberation Mono","fontSize":20.5,"color":"#ee1c1c","align":"left"},"encoding":{"x":{"datum":0.19},"y":{"datum":2.78}}},
{"mark":{"type":"text","text":"Vout=3.3V","font":"Liberation Mono","fontSize":19,"color":"#44dd44","align":"left"},"encoding":{"x":{"datum":5.54},"y":{"datum":1.653}}},
{"mark":{"type":"text","text":"Cin=Cout=47uF","font":"Liberation Mono","fontSize":19,"color":"#44dd44","align":"left"},"encoding":{"x":{"datum":5.54},"y":{"datum":1.21}}},
{"mark":{"type":"rect","color":"#1f1ff0"},"encoding":{"x":{"datum":-0.43},"x2":{"datum":-0.04},"y":{"datum":4.85},"y2":{"datum":5.11}}},
{"mark":{"type":"text","text":"1→","font":"Liberation Sans","fontSize":9,"color":"#ffffff"},"encoding":{"x":{"datum":-0.23},"y":{"datum":4.98}}},
{"mark":{"type":"text","text":"2→","font":"Liberation Sans","fontSize":9,"color":"#ee1c1c"},"encoding":{"x":{"datum":-0.2},"y":{"datum":0.0}}},
{"mark":{"type":"point","shape":"triangle-down","filled":true,"color":"#1ea0e6","size":45,"opacity":1},"encoding":{"x":{"datum":2.0},"y":{"datum":8.0}}},
{"mark":{"type":"text","text":"←","font":"DejaVu Sans","fontSize":12,"color":"#1f1ff0"},"encoding":{"x":{"datum":9.85},"y":{"datum":6.22}}},
{"mark":{"type":"text","text":"Ch1","font":"Liberation Sans","fontSize":9.5,"color":"#3c3cf2","align":"left"},"encoding":{"x":{"datum":0.01},"y":{"datum":-0.2}}},
{"mark":{"type":"text","text":"2.0V","font":"Liberation Sans","fontSize":9.5,"color":"#3c3cf2","align":"left"},"encoding":{"x":{"datum":0.78},"y":{"datum":-0.2}}},
{"mark":{"type":"text","text":"Ch2","font":"Liberation Sans","fontSize":9.5,"color":"#ee1c1c","align":"left"},"encoding":{"x":{"datum":2.99},"y":{"datum":-0.2}}},
{"mark":{"type":"text","text":"1.0V","font":"Liberation Sans","fontSize":9.5,"color":"#ee1c1c","align":"left"},"encoding":{"x":{"datum":3.81},"y":{"datum":-0.2}}},
{"mark":{"type":"text","text":"M 40.0µs 12.5MS/s","font":"Liberation Sans","fontSize":9.5,"color":"#555555","align":"left"},"encoding":{"x":{"datum":5.99},"y":{"datum":-0.2}}},
{"mark":{"type":"text","text":"80.0ns/pt","font":"Liberation Sans","fontSize":9.5,"color":"#555555","align":"left"},"encoding":{"x":{"datum":8.16},"y":{"datum":-0.2}}},
{"mark":{"type":"text","text":"A","font":"Liberation Sans","fontSize":9.5,"color":"#555555","align":"left"},"encoding":{"x":{"datum":5.99},"y":{"datum":-0.44}}},
{"mark":{"type":"text","text":"Ch1","font":"Liberation Sans","fontSize":9.5,"color":"#3c3cf2","align":"left"},"encoding":{"x":{"datum":6.23},"y":{"datum":-0.44}}},
{"mark":{"type":"text","text":"/ 2.48V","font":"Liberation Sans","fontSize":9.5,"color":"#555555","align":"left"},"encoding":{"x":{"datum":6.78},"y":{"datum":-0.44}}}
]},
{"width":566,"height":61,"mark":{"type":"text","text":"Load Transient response","font":"Liberation Sans","fontSize":24.6,"color":"#000000"},"encoding":{"x":{"datum":50,"scale":{"domain":[0,100],"nice":false,"zero":false}},"y":{"datum":0.49,"scale":{"domain":[0,1],"nice":false,"zero":false}}}},
{"width":577,"height":61,"mark":{"type":"text","text":"Vref voltage vs temperature","font":"Liberation Sans","fontSize":24.6,"color":"#000000"},"encoding":{"x":{"datum":50,"scale":{"domain":[0,100],"nice":false,"zero":false}},"y":{"datum":0.49,"scale":{"domain":[0,1],"nice":false,"zero":false}}}},
{"width":566,"height":435,"layer":[
{"data":{"name":"gx"},"mark":{"type":"rule","color":"#a9a9b4","strokeWidth":1,"strokeDash":[1.5,8.13]},"encoding":{"x":{"field":"v","type":"quantitative","scale":{"domain":[-0.588,10.152],"nice":false,"zero":false}},"y":{"datum":0,"scale":{"domain":[-0.831,8.208],"nice":false,"zero":false}},"y2":{"datum":8}}},
{"data":{"name":"gy"},"mark":{"type":"rule","color":"#a9a9b4","strokeWidth":1,"strokeDash":[1.5,9.04]},"encoding":{"y":{"field":"v","type":"quantitative"},"x":{"datum":0},"x2":{"datum":10}}},
{"mark":{"type":"rect","fillOpacity":0,"stroke":"#8f8f9f","strokeWidth":1.5},"encoding":{"x":{"datum":0},"x2":{"datum":10},"y":{"datum":0},"y2":{"datum":8}}},
{"mark":{"type":"rule","color":"#8f8f9f","strokeWidth":1.2},"encoding":{"x":{"datum":5},"y":{"datum":0},"y2":{"datum":8}}},
{"mark":{"type":"rule","color":"#8f8f9f","strokeWidth":1.2},"encoding":{"y":{"datum":4},"x":{"datum":0},"x2":{"datum":10}}},
{"data":{"name":"tx"},"mark":{"type":"rule","color":"#8f8f9f"},"encoding":{"x":{"field":"v","type":"quantitative"},"y":{"datum":7.88},"y2":{"datum":8}}},
{"data":{"name":"tx"},"mark":{"type":"rule","color":"#8f8f9f"},"encoding":{"x":{"field":"v","type":"quantitative"},"y":{"datum":0},"y2":{"datum":0.12}}},
{"data":{"name":"tx"},"mark":{"type":"rule","color":"#8f8f9f"},"encoding":{"x":{"field":"v","type":"quantitative"},"y":{"datum":3.91},"y2":{"datum":4.09}}},
{"data":{"name":"ty"},"mark":{"type":"rule","color":"#8f8f9f"},"encoding":{"y":{"field":"v","type":"quantitative"},"x":{"datum":0},"x2":{"datum":0.1}}},
{"data":{"name":"ty"},"mark":{"type":"rule","color":"#8f8f9f"},"encoding":{"y":{"field":"v","type":"quantitative"},"x":{"datum":9.9},"x2":{"datum":10}}},
{"data":{"name":"ty"},"mark":{"type":"rule","color":"#8f8f9f"},"encoding":{"y":{"field":"v","type":"quantitative"},"x":{"datum":4.92},"x2":{"datum":5.08}}},
{"data":{"name":"s4m"},"mark":{"type":"area","color":"#f03cf0","stroke":"#f03cf0","strokeWidth":1,"opacity":1},"encoding":{"x":{"field":"x","type":"quantitative"},"y":{"field":"lo","type":"quantitative"},"y2":{"field":"hi"},"order":{"value":null}}},
{"data":{"name":"s4b"},"mark":{"type":"line","color":"#1c1cf0","strokeWidth":1.6},"encoding":{"x":{"field":"x","type":"quantitative"},"y":{"field":"y","type":"quantitative"},"order":{"value":null}}},
{"data":{"name":"s4burst"},"mark":{"type":"area","color":"#3030ee","opacity":0.92},"encoding":{"x":{"field":"x","type":"quantitative"},"y":{"field":"lo","type":"quantitative"},"y2":{"field":"hi"},"detail":{"field":"b","type":"nominal"},"order":{"value":null}}},
{"data":{"name":"s4burst"},"mark":{"type":"area","color":"#a4a4f6","opacity":1},"encoding":{"x":{"field":"x","type":"quantitative"},"y":{"field":"mlo","type":"quantitative"},"y2":{"field":"mhi"},"detail":{"field":"b","type":"nominal"},"order":{"value":null}}},
{"mark":{"type":"text","text":"Loading : 1mA ~ 200mA","font":"Liberation Mono","fontSize":20.5,"color":"#f03cf0","align":"left"},"encoding":{"x":{"datum":3.51},"y":{"datum":6.59}}},
{"mark":{"type":"text","text":"Vin=2.4V","font":"Liberation Mono","fontSize":19,"color":"#ee1c1c","align":"left"},"encoding":{"x":{"datum":0.11},"y":{"datum":3.792}}},
{"mark":{"type":"text","text":"Vout=3.3V","font":"Liberation Mono","fontSize":19,"color":"#ee1c1c","align":"left"},"encoding":{"x":{"datum":0.11},"y":{"datum":3.335}}},
{"mark":{"type":"text","text":"Vout : AC Couple","font":"Liberation Mono","fontSize":20.5,"color":"#3c3cf2","align":"left"},"encoding":{"x":{"datum":5.09},"y":{"datum":3.32}}},
{"mark":{"type":"text","text":"4→","font":"Liberation Sans","fontSize":10,"color":"#f03cf0"},"encoding":{"x":{"datum":-0.25},"y":{"datum":5.0}}},
{"mark":{"type":"rect","color":"#1f1ff0"},"encoding":{"x":{"datum":-0.44},"x2":{"datum":0},"y":{"datum":1.86},"y2":{"datum":2.1}}},
{"mark":{"type":"text","text":"1→","font":"Liberation Sans","fontSize":9.5,"color":"#ffffff"},"encoding":{"x":{"datum":-0.22},"y":{"datum":1.98}}},
{"mark":{"type":"point","shape":"triangle-down","filled":true,"color":"#1ea0e6","size":45,"opacity":1},"encoding":{"x":{"datum":5.0},"y":{"datum":8.0}}},
{"mark":{"type":"text","text":"←","font":"DejaVu Sans","fontSize":12,"color":"#f03cf0"},"encoding":{"x":{"datum":9.85},"y":{"datum":5.0}}},
{"mark":{"type":"text","text":"Ch1","font":"Liberation Sans","fontSize":9.5,"color":"#3c3cf2","align":"left"},"encoding":{"x":{"datum":0},"y":{"datum":-0.19}}},
{"mark":{"type":"text","text":"100mV   ∿   Bw","font":"Liberation Sans","fontSize":9.5,"color":"#3c3cf2","align":"left"},"encoding":{"x":{"datum":0.82},"y":{"datum":-0.19}}},
{"mark":{"type":"text","text":"Ch4","font":"Liberation Sans","fontSize":9.5,"color":"#f03cf0","align":"left"},"encoding":{"x":{"datum":3.0},"y":{"datum":-0.44}}},
{"mark":{"type":"text","text":"200mA   Ω","font":"Liberation Sans","fontSize":9.5,"color":"#f03cf0","align":"left"},"encoding":{"x":{"datum":3.82},"y":{"datum":-0.44}}},
{"mark":{"type":"text","text":"M 400µs 62.5MS/s","font":"Liberation Sans","fontSize":9.5,"color":"#555555","align":"left"},"encoding":{"x":{"datum":6.0},"y":{"datum":-0.19}}},
{"mark":{"type":"text","text":"16.0ns/pt","font":"Liberation Sans","fontSize":9.5,"color":"#555555","align":"left"},"encoding":{"x":{"datum":8.2},"y":{"datum":-0.19}}},
{"mark":{"type":"text","text":"A","font":"Liberation Sans","fontSize":9.5,"color":"#555555","align":"left"},"encoding":{"x":{"datum":6.0},"y":{"datum":-0.44}}},
{"mark":{"type":"text","text":"Ch4","font":"Liberation Sans","fontSize":9.5,"color":"#f03cf0","align":"left"},"encoding":{"x":{"datum":6.24},"y":{"datum":-0.44}}},
{"mark":{"type":"text","text":"/ 0.0A","font":"Liberation Sans","fontSize":9.5,"color":"#555555","align":"left"},"encoding":{"x":{"datum":6.77},"y":{"datum":-0.44}}}
]},
{"width":577,"height":435,"layer":[
{"mark":{"type":"rect","fillOpacity":0,"stroke":"#000000","strokeWidth":1.3},"encoding":{"x":{"datum":-100.04,"scale":{"domain":[-107.37,174.41],"nice":false,"zero":false}},"x2":{"datum":170.5},"y":{"datum":1.182895,"scale":{"domain":[1.18257,1.198274],"nice":false,"zero":false}},"y2":{"datum":1.197697}}},
{"data":{"values":[{"v":-40},{"v":-20},{"v":0},{"v":20},{"v":40},{"v":60},{"v":80},{"v":100},{"v":120},{"v":140}]},"mark":{"type":"rule","color":"#000000","strokeWidth":1},"encoding":{"x":{"field":"v","type":"quantitative"},"y":{"datum":1.186},"y2":{"datum":1.195}}},
{"data":{"values":[{"v":1.187},{"v":1.188},{"v":1.189},{"v":1.19},{"v":1.191},{"v":1.192},{"v":1.193},{"v":1.194}]},"mark":{"type":"rule","color":"#000000","strokeWidth":1},"encoding":{"y":{"field":"v","type":"quantitative"},"x":{"datum":-60},"x2":{"datum":160}}},
{"mark":{"type":"rect","fillOpacity":0,"stroke":"#000000","strokeWidth":1.5},"encoding":{"x":{"datum":-60},"x2":{"datum":160},"y":{"datum":1.186},"y2":{"datum":1.195}}},
{"data":{"values":[{"v":-60},{"v":-40},{"v":-20},{"v":0},{"v":20},{"v":40},{"v":60},{"v":80},{"v":100},{"v":120},{"v":140},{"v":160}]},"mark":{"type":"text","font":"Liberation Serif","fontSize":15,"color":"#222222"},"encoding":{"x":{"field":"v","type":"quantitative"},"y":{"datum":1.18499},"text":{"field":"v","type":"nominal"}}},
{"data":{"values":[{"v":1.186},{"v":1.187},{"v":1.188},{"v":1.189},{"v":1.19},{"v":1.191},{"v":1.192},{"v":1.193},{"v":1.194},{"v":1.195}]},"mark":{"type":"text","font":"Liberation Serif","fontSize":15,"color":"#222222","align":"right"},"encoding":{"y":{"field":"v","type":"quantitative"},"x":{"datum":-65.37},"text":{"field":"v","type":"nominal"}}},
{"mark":{"type":"text","text":"Vref vs. Temperature","font":"Liberation Serif","fontSize":15,"color":"#222222"},"encoding":{"x":{"datum":35.23},"y":{"datum":1.196758}}},
{"mark":{"type":"text","text":"Reference Voltage (V)","font":"Liberation Serif","fontSize":16,"color":"#222222","angle":270},"encoding":{"x":{"datum":-88.81},"y":{"datum":1.190332}}},
{"mark":{"type":"text","text":"Temperature (℃)","font":"Liberation Serif","fontSize":15,"color":"#222222"},"encoding":{"x":{"datum":49.88},"y":{"datum":1.183834}}},
{"data":{"name":"vref"},"mark":{"type":"line","color":"#00007f","strokeWidth":1.2,"interpolate":"catmull-rom"},"encoding":{"x":{"field":"t","type":"quantitative"},"y":{"field":"v","type":"quantitative"}}},
{"data":{"name":"vref"},"mark":{"type":"point","shape":"diamond","filled":true,"color":"#00007f","size":40,"opacity":1},"encoding":{"x":{"field":"t","type":"quantitative"},"y":{"field":"v","type":"quantitative"}}}
]}
]
}
